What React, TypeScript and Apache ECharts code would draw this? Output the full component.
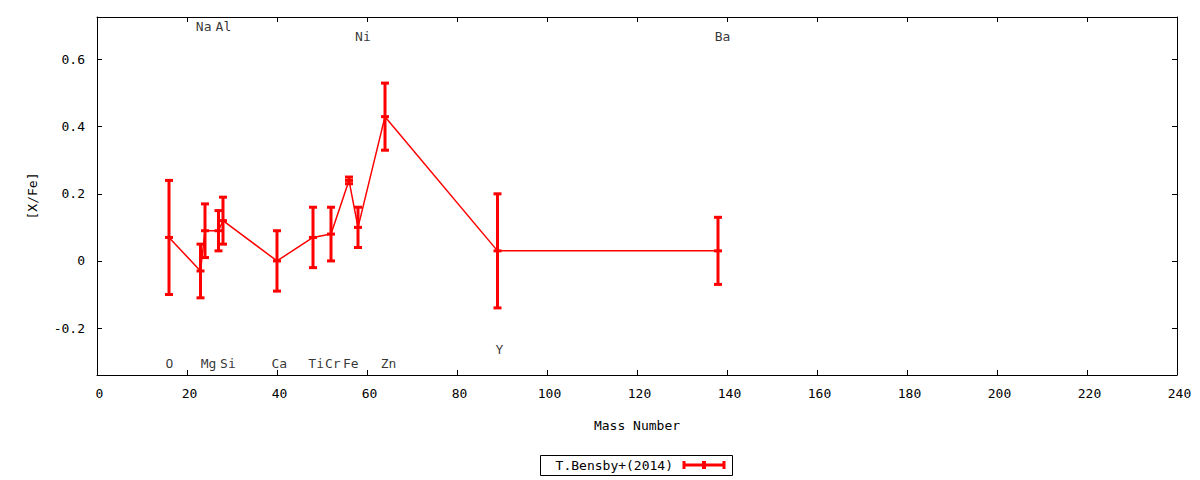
import React, { useEffect, useRef } from "react";
import * as echarts from "echarts";

// 元素、质量数与 [X/Fe] 数据
const elements = ["O", "Na", "Mg", "Al", "Si", "Ca", "Ti", "Cr", "Fe", "Ni", "Zn", "Y", "Ba"];
const masses = [16, 23, 24, 27, 28, 40, 48, 52, 56, 58, 64, 89, 138];
const xFe = [0.07, -0.03, 0.09, 0.09, 0.12, 0.0, 0.07, 0.08, 0.24, 0.1, 0.43, 0.03, 0.03];
const xFeErr = [0.17, 0.08, 0.08, 0.06, 0.07, 0.09, 0.09, 0.08, 0.01, 0.06, 0.1, 0.17, 0.1];

// 元素标签的位置（数据坐标）
const labelX = [16.1, 23.7, 24.8, 28.1, 29.1, 40.5, 48.7, 52.4, 56.4, 59.1, 64.8, 89.4, 139];
const labelY = [-0.305, 0.7, -0.305, 0.7, -0.305, -0.305, -0.305, -0.305, -0.305, 0.67, -0.305, -0.263, 0.67];

// 坐标轴刻度
const xTickInterval = 20;
const yTicks = [-0.2, 0, 0.2, 0.4, 0.6];

const seriesName = "T.Bensby+(2014)";

const FONT = "DejaVu Sans Mono";
const RED = "#ff0000";

const App: React.FC = () => {
  const chartRef = useRef<HTMLDivElement>(null);

  useEffect(() => {
    const myChart = echarts.init(chartRef.current, null, { renderer: "svg" });

    const lineData = masses.map((m, i) => [m, xFe[i]]);
    const errData = masses.map((m, i) => [m, xFe[i], xFe[i] - xFeErr[i], xFe[i] + xFeErr[i]]);
    const labelData = elements.map((e, i) => [labelX[i], labelY[i], e]);

    const axisText = { color: "#000", fontFamily: FONT, fontSize: 13 };
    const border = { show: true, onZero: false, lineStyle: { color: "#000", width: 1 } };
    const ticks = { inside: true, length: 5, lineStyle: { color: "#000" } };

    const option: any = {
      animation: false,
      backgroundColor: "#fff",
      grid: { left: 97, top: 17, right: 23, bottom: 105 },
      xAxis: [
        {
          type: "value",
          min: 0,
          max: 240,
          interval: xTickInterval,
          name: "Mass Number",
          nameLocation: "middle",
          nameGap: 44,
          nameTextStyle: axisText,
          axisLine: border,
          axisTick: ticks,
          axisLabel: { ...axisText, margin: 12, padding: [0, 0, 0, 5] },
          splitLine: { show: false },
        },
        {
          type: "value",
          position: "top",
          min: 0,
          max: 240,
          interval: xTickInterval,
          axisLine: border,
          axisTick: ticks,
          axisLabel: { show: false },
          splitLine: { show: false },
        },
      ],
      yAxis: [
        {
          type: "value",
          min: -0.34,
          max: 0.727,
          name: "[X/Fe]",
          nameLocation: "middle",
          nameGap: 58,
          nameTextStyle: axisText,
          axisLine: border,
          axisTick: { ...ticks, customValues: yTicks },
          axisLabel: {
            ...axisText,
            margin: 12,
            customValues: yTicks,
            formatter: (v: number) => String(Math.round(v * 10) / 10),
          },
          splitLine: { show: false },
        },
        {
          type: "value",
          position: "right",
          min: -0.34,
          max: 0.727,
          axisLine: border,
          axisTick: { ...ticks, customValues: yTicks },
          axisLabel: { show: false },
          splitLine: { show: false },
        },
      ],
      series: [
        {
          name: seriesName,
          type: "line",
          data: lineData,
          symbol: "none",
          lineStyle: { color: RED, width: 1.5 },
          z: 2,
        },
        {
          name: seriesName,
          type: "custom",
          data: errData,
          z: 3,
          renderItem: (params: any, api: any) => {
            const x = api.value(0);
            const c = api.coord([x, api.value(1)]);
            const lo = api.coord([x, api.value(2)]);
            const hi = api.coord([x, api.value(3)]);
            const hw = 4;
            const style = { stroke: RED, lineWidth: 3 };
            return {
              type: "group",
              children: [
                { type: "line", shape: { x1: lo[0], y1: lo[1], x2: hi[0], y2: hi[1] }, style },
                { type: "line", shape: { x1: lo[0] - hw, y1: lo[1], x2: lo[0] + hw, y2: lo[1] }, style },
                { type: "line", shape: { x1: hi[0] - hw, y1: hi[1], x2: hi[0] + hw, y2: hi[1] }, style },
                { type: "line", shape: { x1: c[0] - hw, y1: c[1], x2: c[0] + hw, y2: c[1] }, style },
              ],
            };
          },
        },
        {
          name: "labels",
          type: "scatter",
          data: labelData,
          symbolSize: 0,
          silent: true,
          label: {
            show: true,
            position: "inside",
            formatter: (p: any) => p.data[2],
            color: "#000",
            fontFamily: FONT,
            fontSize: 13,
          },
        },
      ],
      graphic: [
        {
          type: "rect",
          shape: { x: 540.5, y: 455.5, width: 192, height: 20 },
          style: { fill: "#fff", stroke: "#000", lineWidth: 1 },
        },
        {
          type: "text",
          x: 673,
          y: 465,
          style: {
            text: seriesName,
            fill: "#000",
            font: `13px "${FONT}"`,
            align: "right",
            verticalAlign: "middle",
          },
        },
        {
          type: "line",
          shape: { x1: 683, y1: 465, x2: 725, y2: 465 },
          style: { stroke: RED, lineWidth: 3 },
        },
        {
          type: "line",
          shape: { x1: 684, y1: 461, x2: 684, y2: 469 },
          style: { stroke: RED, lineWidth: 3 },
        },
        {
          type: "line",
          shape: { x1: 724, y1: 461, x2: 724, y2: 469 },
          style: { stroke: RED, lineWidth: 3 },
        },
        {
          type: "line",
          shape: { x1: 704, y1: 461, x2: 704, y2: 469 },
          style: { stroke: RED, lineWidth: 4 },
        },
      ],
    };

    myChart.setOption(option);
    return () => {
      myChart.dispose();
    };
  }, []);

  return (
    <div style={{ position: "fixed", left: 0, top: 0, width: 1200, height: 480, background: "#fff" }}>
      <div ref={chartRef} style={{ width: 1200, height: 480 }} />
    </div>
  );
};

export default App;
